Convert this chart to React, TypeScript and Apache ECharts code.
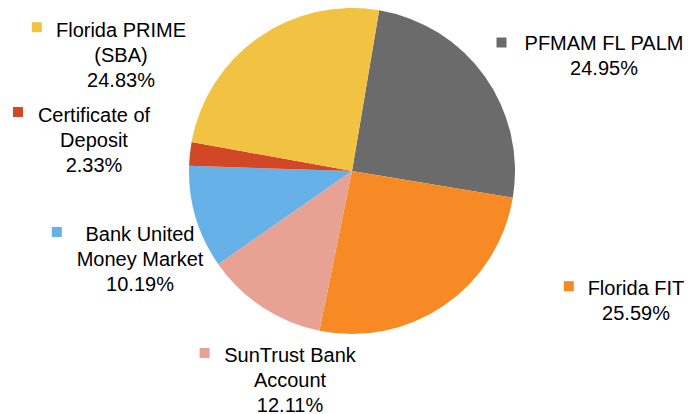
import React, { useEffect, useRef } from "react";
import * as echarts from "echarts";

const categories = [
  "PFMAM FL PALM",
  "Florida FIT",
  "SunTrust Bank\nAccount",
  "Bank United\nMoney Market",
  "Certificate of\nDeposit",
  "Florida PRIME\n(SBA)",
];
const shares = [24.95, 25.59, 12.11, 10.19, 2.33, 24.83];
const colors = ["#6a6b6a", "#f78a24", "#e8a294", "#66b2e8", "#d24826", "#f2c343"];

// label block layout: [centerX, topY]
const labelPos: [number, number][] = [
  [604, 30],
  [636, 275],
  [290, 342],
  [140, 221],
  [94, 102],
  [121, 17],
];
// legend key squares: [centerX, centerY]
const keyPos: [number, number][] = [
  [501.5, 42.5],
  [568.8, 286.2],
  [204.6, 353],
  [56.8, 232],
  [18, 112],
  [36.8, 27.2],
];

export default function App() {
  const ref = useRef<HTMLDivElement>(null);
  useEffect(() => {
    if (!ref.current) return;
    const chart = echarts.init(ref.current, undefined, { renderer: "svg" });
    const font = "'Liberation Sans', Arial, sans-serif";
    chart.setOption({
      animation: false,
      backgroundColor: "#ffffff",
      graphic: keyPos.map((p, i) => ({
        type: "rect",
        shape: { x: p[0] - 5, y: p[1] - 5, width: 10, height: 10 },
        style: { fill: colors[i] },
        silent: true,
      })),
      series: [
        {
          type: "pie",
          center: [352, 171],
          radius: [0, 163],
          startAngle: 80.4,
          clockwise: true,
          avoidLabelOverlap: false,
          data: categories.map((c, i) => ({
            name: c,
            value: shares[i],
            itemStyle: { color: colors[i] },
          })),
          itemStyle: { borderWidth: 0 },
          label: {
            show: true,
            position: "outside",
            formatter: (p: any) => `${p.name}\n${Number(p.value).toFixed(2)}%`,
            fontFamily: font,
            fontSize: 20,
            lineHeight: 25,
            color: "#000000",
            align: "center",
          },
          labelLine: { show: false },
          labelLayout: (params: any) => {
            const p = labelPos[params.dataIndex];
            return { x: p[0], y: p[1], align: "center", verticalAlign: "top" };
          },
          emphasis: { disabled: true },
        },
      ],
    });
    return () => chart.dispose();
  }, []);
  return (
    <div
      ref={ref}
      style={{ position: "fixed", left: 0, top: 0, width: 691, height: 414 }}
    />
  );
}
